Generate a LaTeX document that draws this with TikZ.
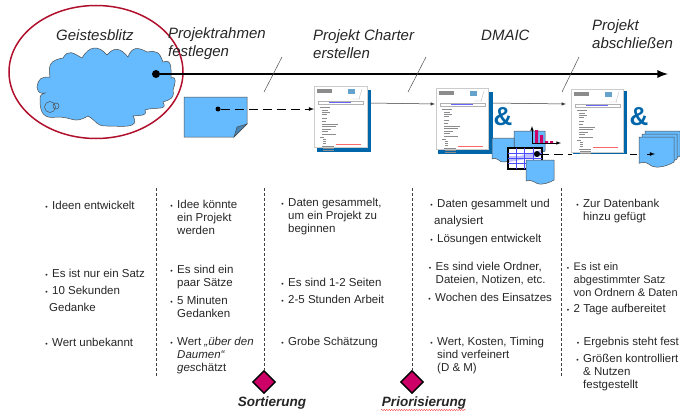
\documentclass[tikz,border=0pt]{standalone}
\usepackage{fontspec}
\setmainfont{Liberation Sans}
\usetikzlibrary{arrows,shapes,snakes}
\definecolor{skyb}{RGB}{102,187,255}
\definecolor{deepb}{RGB}{0,102,170}
\definecolor{ringred}{RGB}{176,16,44}
\definecolor{magen}{RGB}{204,0,102}
\newcommand{\blt}{\llap{\scalebox{.6}{\textbullet}\hspace{4.5pt}}}
\tikzset{
  body/.style={anchor=west,inner sep=0pt,align=left,font=\fontsize{11.5}{13}\selectfont,text=black!85},
  head/.style={anchor=west,inner sep=0pt,align=left,font=\fontsize{15}{18}\selectfont\itshape,text=black!85},
  gate/.style={anchor=center,inner sep=0pt,font=\fontsize{13.5}{16}\selectfont\bfseries\itshape,text=black!85},
  blob/.style={circle,fill=black,inner sep=0pt,minimum size=#1},
  sep/.style={densely dashed,black!75,line width=.7pt},
  sheet/.style={draw=black!20,fill=white,inner sep=0pt,minimum width=#1},
  amp/.style={inner sep=0pt,font=\fontsize{26}{26}\selectfont\bfseries,text=deepb},
  gatemark/.style={diamond,draw=black,line width=1.4pt,fill=magen,inner sep=0pt,minimum size=23pt},
  pics/docfill/.style={code={
    \fill[black!45] (3,3) rectangle (18,7);
    \fill[deepb!60] (34,3) rectangle (41,8);
    \draw[black!30,line width=.3pt] (48,3) -- (45,13) (38,13) -- (46,13);
    \draw[black!30,line width=.4pt] (4,15) rectangle (49,18);
    \draw[blue!60,line width=.6pt] (15,16.5) -- (37,16.5);
    \foreach \yy/\xa/\xb in {21/6/16,24/8/14,26/8/16,28/8/13,32/8/13,35/8/12,38/8/24,40/8/22,43/8/17,45/8/14,48/8/22,51/6/10,53/9/12,55/9/12,57/9/12,60/8/20,62/9/20,64/9/20}
      \draw[black!45,line width=.4pt] (\xa,\yy) -- (\xb,\yy);
    \draw[red!60,line width=.4pt] (22,58) -- (47,58);
  }},
  pics/wavesheet/.style={code={
    \draw[black!70,fill=skyb,line width=.5pt] (0,0) -- (#1,0) -- (#1,20) .. controls (#1*.7,25) and (#1*.4,25) .. (#1*.3,22) .. controls (#1*.2,20) and (#1*.1,20) .. (0,21) -- cycle;
  }}
}
\begin{document}
\begin{tikzpicture}[x=1pt,y=-1pt,>=latex]
\useasboundingbox (0,0) rectangle (680,412);
% cloud and ring
\draw[black!70,fill=skyb,line width=.5pt,looseness=1.4] (37,87) to[out=80,in=180] (50,77) to[out=100,in=190] (63,58)
  to[out=60,in=150] (82,58) to[out=60,in=130] (107,55) to[out=50,in=130] (128,57)
  to[out=70,in=150] (147,52) to[out=10,in=110] (163,62) to[out=20,in=90] (171,78)
  to[out=20,in=70] (173,90) to[out=-80,in=20] (163,102) to[out=-60,in=20] (145,110)
  to[out=-70,in=10] (133,116) to[out=-60,in=0] (107,126) to[out=180,in=-30] (88,116)
  to[out=-150,in=0] (57,117) to[out=-170,in=-90] (40,100) to[out=90,in=-160] (45,93)
  to[out=-170,in=-80] (37,87) -- cycle;
\node[circle,draw=black!70,line width=.5pt,inner sep=0pt,minimum size=11pt] (bub1) at (50,107) {};
\node[circle,draw=black!70,line width=.5pt,inner sep=0pt,minimum size=6pt] (bub2) at (56,106) {};
\node[ellipse,draw=ringred,line width=1.5pt,inner sep=0pt,minimum width=174pt,minimum height=133pt] (ring) at (96,72) {};
\node[head] (t1) at (56,35) {Geistesblitz};
\node[head] (t2) at (168,44) {Projektrahmen\\festlegen};
\node[head] (t3) at (313,44) {Projekt Charter\\erstellen};
\node[head] (t4) at (481,35) {DMAIC};
\node[head] (t5) at (592,34) {Projekt\\abschließen};
% time line
\node[blob=8pt] (start) at (156,74) {};
\coordinate (end) at (668,74);
\draw[->,line width=2.6pt] (start) -- (end);
\coordinate (s1a) at (282,57); \coordinate (s1b) at (264,92);
\coordinate (s2a) at (426,57); \coordinate (s2b) at (408,92);
\coordinate (s3a) at (579,57); \coordinate (s3b) at (562,92);
\draw[black!70,line width=.5pt] (s1a) -- (s1b) (s2a) -- (s2b) (s3a) -- (s3b);
% note
\draw[black!70,fill=skyb,line width=.5pt] (184,97) -- (247,97) -- (247,124) -- (234,137) -- (184,137) -- cycle;
\draw[black!70,fill=skyb!70!black,line width=.5pt] (247,124) -- (237,127) -- (234,137) -- cycle;
\node[blob=5pt] (ndot) at (218,109) {};
% sheets
\fill[deepb] (317,90) rectangle (371,152);
\node[sheet=53pt,minimum height=61pt] (doc1) at (340.5,116.5) {};
\pic at (314,86) {docfill};
\fill[deepb] (438,92) rectangle (493,154);
\node[sheet=52pt,minimum height=61pt] (doc2) at (462,118.5) {};
\pic at (436,88) {docfill};
% stacked papers
\pic at (514,131) {wavesheet=31};
\pic at (492,138) {wavesheet=22};
\coordinate (cx) at (532,143);
\coordinate (cy) at (532,126);
\coordinate (cz) at (561,143);
\draw[->,line width=.6pt] (cx) -- (cy);
\draw[->,line width=.6pt] (cx) -- (cz);
\fill[magen] (535,130) rectangle (538,143) (540,135) rectangle (543,143) (545,141) rectangle (548,143) (550,141) rectangle (553,143);
\draw[black,line width=1.2pt,fill=white] (508,148) rectangle (542,169);
\fill[blue!25] (509,156) -- (520,156) -- (541,150) -- (541,156) -- (520,160) -- (509,162) -- cycle;
\foreach \xx in {516,524,533} \draw[blue!70,line width=.5pt] (\xx,148) -- (\xx,169);
\foreach \yy in {153,158,163} \draw[blue!70,line width=.5pt] (508,\yy) -- (542,\yy);
\pic at (526,160) {wavesheet=28};
\node[blob=6pt] (gdot) at (537,154) {};
\coordinate (tip) at (572,154);
\draw[dashed,dash pattern=on 9pt off 5pt,line width=.8pt] (gdot) -- (tip);
% last sheet sits on the dashes
\fill[deepb] (573,91) rectangle (627,154);
\node[sheet=52pt,minimum height=63pt] (doc3) at (597,120.5) {};
\pic at (571,89) {docfill};
\coordinate (d1in) at (314,109);
\draw[->,dashed,dash pattern=on 9pt off 5pt,line width=.8pt] (ndot) -- (d1in);
\coordinate (p1) at (371,103); \coordinate (p2) at (435,104);
\coordinate (p3) at (493,103); \coordinate (p4) at (566,104);
\draw[->,line width=.5pt,black!80] (p1) -- (p2);
\draw[->,line width=.5pt,black!80] (p3) -- (p4);
\node[amp] (and1) at (503,117) {\&};
\node[amp] (and2) at (639,117) {\&};
% end stack
\pic[yscale=1.25] at (645,131) {wavesheet=35};
\pic[yscale=1.25] at (642,134) {wavesheet=35};
\pic[yscale=1.25] at (639,137) {wavesheet=35};
\coordinate (q1) at (630,154);
\coordinate (q2) at (655,154);
\draw[->,dashed,dash pattern=on 7pt off 10pt,line width=.8pt] (q1) -- (q2);
% separators
\coordinate (v1a) at (156,188); \coordinate (v1b) at (156,377);
\coordinate (v2a) at (264,188); \coordinate (v3a) at (412,188);
\coordinate (v4a) at (561,188); \coordinate (v4b) at (561,377);
\node[gatemark] (g1) at (264,382) {};
\node[gatemark] (g2) at (412,382) {};
\draw[sep] (v1a) -- (v1b);
\draw[sep] (v2a) -- (g1);
\draw[sep] (v3a) -- (g2);
\draw[sep] (v4a) -- (v4b);
\node[gate] (l1) at (272,403) {Sortierung};
\node[gate] (l2) at (424,403) {Priorisierung};
\coordinate (w1) at (381,410); \coordinate (w2) at (466,410);
\draw[red!80,line width=.4pt,snake=snake,segment amplitude=.6pt,segment length=2.5pt] (w1) -- (w2);
% column 1
\node[body] (a1) at (52,205) {\blt Ideen entwickelt};
\node[body] (a2) at (52,273.5) {\blt Es ist nur ein Satz};
\node[body] (a3) at (52,290.5) {\blt 10 Sekunden};
\node[body] (a4) at (49,307.5) {Gedanke};
\node[body] (a5) at (52,342) {\blt Wert unbekannt};
% column 2
\node[body] (b1) at (177,217) {\blt Idee könnte\\ein Projekt\\werden};
\node[body] (b2) at (177,277.5) {\blt Es sind ein\\paar Sätze};
\node[body] (b3) at (177,306.5) {\blt 5 Minuten\\Gedanken};
\node[body] (b4) at (177,355.5) {\blt Wert \textit{„über den}\\\textit{Daumen“}\\\textit{ges}chätzt};
% column 3
\node[body] (c1) at (288,217) {\blt Daten gesammelt,\\um ein Projekt zu\\beginnen};
\node[body] (c2) at (288,282) {\blt Es sind 1-2 Seiten};
\node[body] (c3) at (288,299) {\blt 2-5 Stunden Arbeit};
\node[body] (c4) at (288,343) {\blt Grobe Schätzung};
% column 4
\node[body] (d1) at (437,205) {\blt Daten gesammelt und};
\node[body] (d2) at (434,222) {analysiert};
\node[body] (d3) at (437,239.5) {\blt Lösungen entwickelt};
\node[body] (d4) at (435.5,273.5) {\blt Es sind viele Ordner,\\Dateien, Notizen, etc.};
\node[body] (d5) at (435,297) {\blt Wochen des Einsatzes};
\node[body] (d6) at (437,355.5) {\blt Wert, Kosten, Timing\\sind verfeinert\\(D \& M)};
% column 5
\node[body] (e1) at (583,211.5) {\blt Zur Datenbank\\hinzu gefügt};
\node[body,font=\fontsize{11}{13}\selectfont] (e2) at (573.5,279.5) {\blt Es ist ein\\abgestimmter Satz\\von Ordnern \& Daten};
\node[body] (e3) at (573.5,309.5) {\blt 2 Tage aufbereitet};
\node[body] (e4) at (583.5,343) {\blt Ergebnis steht fest};
\node[body] (e5) at (583,372.5) {\blt Größen kontrolliert\\\& Nutzen\\festgestellt};
\end{tikzpicture}
\end{document}
